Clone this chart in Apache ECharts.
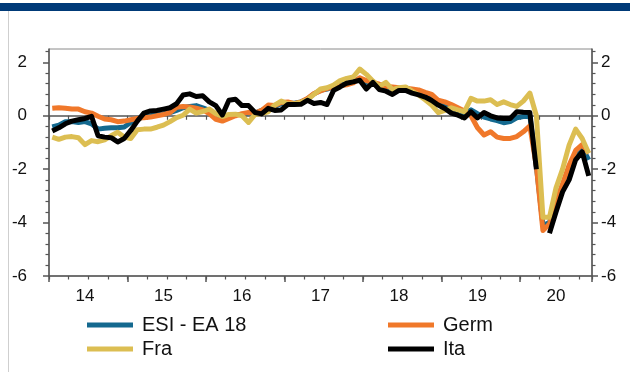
<!DOCTYPE html>
<html>
<head>
<meta charset="utf-8">
<script src="https://cdn.jsdelivr.net/npm/echarts@6/dist/echarts.min.js"></script>
<style>
  html, body { margin: 0; padding: 0; background: #fff; }
  #chart { width: 630px; height: 372px; }
</style>
</head>
<body>
<div id="chart"></div>
<script>
// Year tick labels (two-digit), monthly data from Jan 2014 to Nov 2020
const years = ['14', '15', '16', '17', '18', '19', '20'];
const monthsInLastYear = 11;

// Standardised sentiment, monthly values
const esiEA18 = [
  -0.42, -0.35, -0.22, -0.22, -0.25, -0.22, -0.30, -0.50, -0.47, -0.45, -0.45, -0.42,
  -0.25, -0.12, -0.05, 0.00, 0.05, 0.08, 0.12, 0.20, 0.30, 0.35, 0.38, 0.30,
  0.20, 0.05, -0.08, 0.00, 0.05, 0.05, 0.10, 0.10, 0.20, 0.30, 0.35, 0.45,
  0.47, 0.47, 0.52, 0.63, 0.82, 0.95, 1.00, 1.08, 1.15, 1.20, 1.28, 1.40,
  1.20, 1.20, 1.08, 1.10, 1.02, 1.00, 1.05, 0.95, 0.88, 0.78, 0.62, 0.45,
  0.42, 0.30, 0.20, 0.10, 0.22, 0.08, -0.05, -0.12, -0.18, -0.26, -0.22, -0.08,
  -0.03, 0.00, -1.90, -4.10, -4.00, -3.20, -2.60, -2.10, -1.45, -1.20, -1.65
];
const germ = [
  0.28, 0.30, 0.28, 0.25, 0.25, 0.15, 0.10, -0.02, -0.12, -0.15, -0.22, -0.20,
  -0.15, -0.10, -0.07, -0.05, 0.00, 0.05, 0.12, 0.32, 0.35, 0.33, 0.28, 0.22,
  0.08, -0.13, -0.20, -0.10, 0.00, 0.08, 0.12, 0.10, 0.20, 0.40, 0.38, 0.50,
  0.52, 0.45, 0.52, 0.65, 0.83, 0.93, 1.02, 1.08, 1.12, 1.16, 1.23, 1.42,
  1.32, 1.25, 1.18, 1.10, 1.08, 1.05, 1.03, 1.00, 0.97, 0.88, 0.80, 0.58,
  0.52, 0.42, 0.30, 0.18, 0.00, -0.45, -0.72, -0.60, -0.80, -0.85, -0.85, -0.78,
  -0.60, -0.38, -1.90, -4.30, -4.05, -3.25, -2.55, -1.85, -1.30, -1.08, -1.40
];
const fra = [
  -0.80, -0.88, -0.80, -0.78, -0.82, -1.08, -0.93, -0.97, -0.90, -0.75, -0.62, -0.80,
  -0.85, -0.52, -0.50, -0.50, -0.43, -0.35, -0.22, -0.07, 0.02, 0.25, 0.10, 0.16,
  0.25, 0.08, -0.03, 0.05, 0.06, 0.00, -0.25, 0.05, 0.08, 0.15, 0.40, 0.55,
  0.45, 0.45, 0.50, 0.60, 0.80, 1.00, 1.05, 1.15, 1.32, 1.40, 1.45, 1.75,
  1.55, 1.30, 1.10, 1.25, 0.98, 1.05, 1.08, 0.92, 0.78, 0.60, 0.40, 0.12,
  0.20, 0.30, 0.22, 0.15, 0.65, 0.55, 0.55, 0.60, 0.42, 0.52, 0.42, 0.35,
  0.55, 0.85, 0.00, -3.80, -3.80, -2.70, -2.00, -1.10, -0.50, -0.85, -1.40
];
const ita = [
  -0.57, -0.45, -0.30, -0.20, -0.15, -0.10, -0.02, -0.75, -0.80, -0.82, -0.98, -0.85,
  -0.55, -0.20, 0.10, 0.18, 0.20, 0.25, 0.30, 0.45, 0.78, 0.82, 0.72, 0.75,
  0.52, 0.38, 0.03, 0.58, 0.62, 0.38, 0.38, 0.12, 0.07, 0.28, 0.20, 0.22,
  0.42, 0.42, 0.43, 0.58, 0.46, 0.50, 0.42, 0.95, 1.08, 1.22, 1.27, 1.33,
  1.00, 1.25, 0.98, 0.92, 0.80, 0.95, 0.95, 0.85, 0.78, 0.70, 0.57, 0.40,
  0.27, 0.10, 0.02, -0.08, 0.15, -0.08, 0.12, 0.00, -0.08, -0.10, -0.10, 0.15,
  0.13, 0.12, -2.00, null, -4.40, -3.60, -2.85, -2.40, -1.65, -1.35, -2.25
];

const yTickValues = [-6, -4, -2, 0, 2];

// Month categories "YY-MM"
const months = [];
years.forEach(function (y, k) {
  const n = k === years.length - 1 ? monthsInLastYear : 12;
  for (let m = 1; m <= n; m++) months.push(y + '-' + (m < 10 ? '0' + m : '' + m));
});

const FONT = "'Liberation Sans', Arial, sans-serif";
const AXIS_COLOR = '#555555';
const gridRect = { left: 49, right: 38, top: 49, bottom: 96 };

function hiddenY(gridIndex) {
  return { type: 'value', gridIndex: gridIndex, min: -6, max: 2.5, show: false, splitLine: { show: false } };
}

const yCommon = function (pos, margin) {
  return {
    type: 'value', gridIndex: 0, position: pos,
    min: -6, max: 2.5, interval: 2,
    axisLine: { show: true, onZero: false, lineStyle: { color: AXIS_COLOR, width: 1.5 } },
    axisTick: { show: true, length: 6, customValues: yTickValues, lineStyle: { color: AXIS_COLOR, width: 1.5 } },
    minorTick: { show: true, splitNumber: 5, length: 3.5, lineStyle: { color: AXIS_COLOR, width: 1.2 } },
    splitLine: { show: false },
    axisLabel: {
      margin: margin, fontSize: 17, fontFamily: FONT, color: '#111',
      align: pos === 'left' ? 'right' : 'left',
      formatter: function (v) { return yTickValues.indexOf(v) >= 0 ? String(v) : ''; }
    }
  };
};

const lineSeries = function (name, data, color, width, z) {
  return {
    name: name, type: 'line', data: data, xAxisIndex: 0, yAxisIndex: 0,
    symbol: 'none', showSymbol: false, connectNulls: false, z: z,
    lineStyle: { color: color, width: width, join: 'round', cap: 'butt' },
    itemStyle: { color: color },
    emphasis: { disabled: true }
  };
};

const legendCommon = {
  orient: 'vertical', top: 315, padding: 0, itemGap: 4,
  itemWidth: 46, itemHeight: 5, icon: 'rect', selectedMode: false,
  textStyle: { fontSize: 20, fontFamily: FONT, color: '#111', padding: [0, 0, 0, 4] }
};

const chart = echarts.init(document.getElementById('chart'), null, { renderer: 'canvas' });
chart.setOption({
  animation: false,
  backgroundColor: '#ffffff',
  textStyle: { fontFamily: FONT },
  graphic: [
    { type: 'rect', shape: { x: 0, y: 3, width: 630, height: 8 }, style: { fill: '#003a78' }, silent: true },
    { type: 'line', shape: { x1: 8.5, y1: 11, x2: 8.5, y2: 372 }, style: { stroke: '#cfcfcf', lineWidth: 1 }, silent: true }
  ],
  grid: [
    Object.assign({ show: true, borderColor: '#8a8a8a', borderWidth: 1, backgroundColor: 'transparent' }, gridRect),
    Object.assign({ show: false }, gridRect),
    Object.assign({ show: false }, gridRect)
  ],
  xAxis: [
    {
      type: 'category', gridIndex: 0, data: months, position: 'bottom', boundaryGap: true,
      axisLine: { show: true, onZero: false, lineStyle: { color: AXIS_COLOR, width: 1.5 } },
      axisTick: { show: true, length: 6, interval: function (i) { return i % 12 === 0; }, lineStyle: { color: AXIS_COLOR, width: 1.5 } },
      axisLabel: {
        interval: function (i) { return i % 12 === 5; },
        formatter: function (v) { return v.slice(0, 2); },
        fontSize: 17, fontFamily: FONT, color: '#111', margin: 12
      },
      splitLine: { show: false }
    },
    {
      type: 'category', gridIndex: 1, data: months, position: 'bottom', boundaryGap: true,
      axisLine: { show: false, onZero: false },
      axisTick: { show: true, length: 3.5, interval: function (i) { return i % 3 === 0; }, lineStyle: { color: AXIS_COLOR, width: 1.2 } },
      axisLabel: { show: false },
      splitLine: { show: false }
    },
    {
      type: 'category', gridIndex: 2, data: months, position: 'bottom', boundaryGap: true,
      axisLine: { show: true, onZero: true, lineStyle: { color: AXIS_COLOR, width: 1.5 } },
      axisTick: { show: true, length: 4, interval: function (i) { return i % 3 === 0; }, lineStyle: { color: AXIS_COLOR, width: 1.2 } },
      axisLabel: { show: false },
      splitLine: { show: false }
    }
  ],
  yAxis: [
    yCommon('left', 22),
    yCommon('right', 9),
    hiddenY(1),
    hiddenY(2)
  ],
  legend: [
    Object.assign({ left: 87, data: ['ESI - EA 18', 'Fra'] }, legendCommon),
    Object.assign({ left: 388, data: ['Germ', 'Ita'] }, legendCommon)
  ],
  series: [
    lineSeries('ESI - EA 18', esiEA18, '#14698f', 5, 3),
    lineSeries('Germ', germ, '#f0782a', 5, 4),
    lineSeries('Fra', fra, '#dcbe52', 5, 5),
    lineSeries('Ita', ita, '#000000', 5, 6)
  ]
});
</script>
</body>
</html>
